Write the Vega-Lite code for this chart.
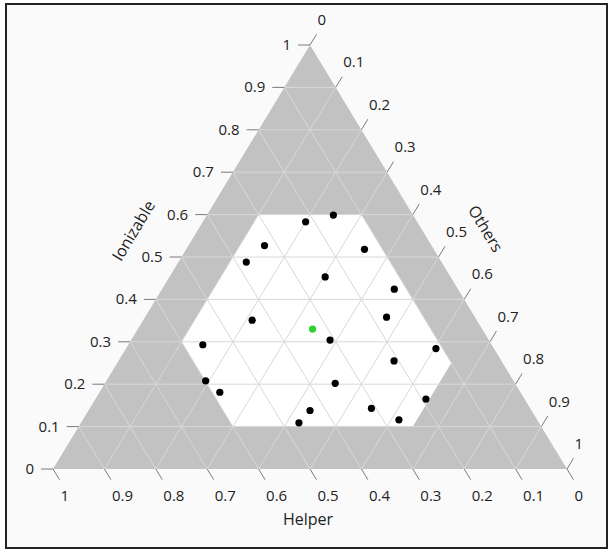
{
  "$schema": "https://vega.github.io/schema/vega-lite/v6.json",
  "width": 601,
  "height": 544,
  "autosize": {"type": "none"},
  "padding": {"left": 6, "top": 4, "right": 5, "bottom": 4},
  "background": "#ffffff",
  "config": {
    "view": {"fill": "#fafafa", "stroke": "#222222", "strokeWidth": 2},
    "text": {"font": "Open Sans", "fontSize": 15, "fill": "#222222"}
  },
  "datasets": {
    "triangle": [
      {"x": 0, "top": 0, "bottom": 0},
      {"x": 0.5, "top": 1, "bottom": 0},
      {"x": 1, "top": 0, "bottom": 0}
    ],
    "region": [
      {"x": 0.25, "top": 0.3, "bottom": 0.3},
      {"x": 0.35, "top": 0.5, "bottom": 0.1},
      {"x": 0.4, "top": 0.6, "bottom": 0.1},
      {"x": 0.6, "top": 0.6, "bottom": 0.1},
      {"x": 0.7, "top": 0.4, "bottom": 0.1},
      {"x": 0.775, "top": 0.25, "bottom": 0.25}
    ],
    "grid": [
      {"x": 0.05, "y": 0.1, "x2": 0.95, "y2": 0.1},
      {"x": 0.1, "y": 0.2, "x2": 0.9, "y2": 0.2},
      {"x": 0.15, "y": 0.3, "x2": 0.85, "y2": 0.3},
      {"x": 0.2, "y": 0.4, "x2": 0.8, "y2": 0.4},
      {"x": 0.25, "y": 0.5, "x2": 0.75, "y2": 0.5},
      {"x": 0.3, "y": 0.6, "x2": 0.7, "y2": 0.6},
      {"x": 0.35, "y": 0.7, "x2": 0.65, "y2": 0.7},
      {"x": 0.4, "y": 0.8, "x2": 0.6, "y2": 0.8},
      {"x": 0.45, "y": 0.9, "x2": 0.55, "y2": 0.9},
      {"x": 0.1, "y": 0, "x2": 0.55, "y2": 0.9},
      {"x": 0.2, "y": 0, "x2": 0.6, "y2": 0.8},
      {"x": 0.3, "y": 0, "x2": 0.65, "y2": 0.7},
      {"x": 0.4, "y": 0, "x2": 0.7, "y2": 0.6},
      {"x": 0.5, "y": 0, "x2": 0.75, "y2": 0.5},
      {"x": 0.6, "y": 0, "x2": 0.8, "y2": 0.4},
      {"x": 0.7, "y": 0, "x2": 0.85, "y2": 0.3},
      {"x": 0.8, "y": 0, "x2": 0.9, "y2": 0.2},
      {"x": 0.9, "y": 0, "x2": 0.95, "y2": 0.1},
      {"x": 0.9, "y": 0, "x2": 0.45, "y2": 0.9},
      {"x": 0.8, "y": 0, "x2": 0.4, "y2": 0.8},
      {"x": 0.7, "y": 0, "x2": 0.35, "y2": 0.7},
      {"x": 0.6, "y": 0, "x2": 0.3, "y2": 0.6},
      {"x": 0.5, "y": 0, "x2": 0.25, "y2": 0.5},
      {"x": 0.4, "y": 0, "x2": 0.2, "y2": 0.4},
      {"x": 0.3, "y": 0, "x2": 0.15, "y2": 0.3},
      {"x": 0.2, "y": 0, "x2": 0.1, "y2": 0.2},
      {"x": 0.1, "y": 0, "x2": 0.05, "y2": 0.1}
    ],
    "ticksLeft": [
      {"label": "0", "x": 0, "y": 0},
      {"label": "0.1", "x": 0.05, "y": 0.1},
      {"label": "0.2", "x": 0.1, "y": 0.2},
      {"label": "0.3", "x": 0.15, "y": 0.3},
      {"label": "0.4", "x": 0.2, "y": 0.4},
      {"label": "0.5", "x": 0.25, "y": 0.5},
      {"label": "0.6", "x": 0.3, "y": 0.6},
      {"label": "0.7", "x": 0.35, "y": 0.7},
      {"label": "0.8", "x": 0.4, "y": 0.8},
      {"label": "0.9", "x": 0.45, "y": 0.9},
      {"label": "1", "x": 0.5, "y": 1}
    ],
    "ticksRight": [
      {"label": "0", "x": 0.5, "y": 1},
      {"label": "0.1", "x": 0.55, "y": 0.9},
      {"label": "0.2", "x": 0.6, "y": 0.8},
      {"label": "0.3", "x": 0.65, "y": 0.7},
      {"label": "0.4", "x": 0.7, "y": 0.6},
      {"label": "0.5", "x": 0.75, "y": 0.5},
      {"label": "0.6", "x": 0.8, "y": 0.4},
      {"label": "0.7", "x": 0.85, "y": 0.3},
      {"label": "0.8", "x": 0.9, "y": 0.2},
      {"label": "0.9", "x": 0.95, "y": 0.1},
      {"label": "1", "x": 1, "y": 0}
    ],
    "ticksBottom": [
      {"label": "1", "x": 0, "y": 0},
      {"label": "0.9", "x": 0.1, "y": 0},
      {"label": "0.8", "x": 0.2, "y": 0},
      {"label": "0.7", "x": 0.3, "y": 0},
      {"label": "0.6", "x": 0.4, "y": 0},
      {"label": "0.5", "x": 0.5, "y": 0},
      {"label": "0.4", "x": 0.6, "y": 0},
      {"label": "0.3", "x": 0.7, "y": 0},
      {"label": "0.2", "x": 0.8, "y": 0},
      {"label": "0.1", "x": 0.9, "y": 0},
      {"label": "0", "x": 1, "y": 0}
    ],
    "points": [
      {"Ionizable": 0.599, "Others": 0.246, "Helper": 0.155, "kind": "run"},
      {"Ionizable": 0.583, "Others": 0.200, "Helper": 0.217, "kind": "run"},
      {"Ionizable": 0.527, "Others": 0.148, "Helper": 0.325, "kind": "run"},
      {"Ionizable": 0.488, "Others": 0.132, "Helper": 0.380, "kind": "run"},
      {"Ionizable": 0.518, "Others": 0.347, "Helper": 0.135, "kind": "run"},
      {"Ionizable": 0.453, "Others": 0.303, "Helper": 0.244, "kind": "run"},
      {"Ionizable": 0.424, "Others": 0.452, "Helper": 0.124, "kind": "run"},
      {"Ionizable": 0.351, "Others": 0.212, "Helper": 0.437, "kind": "run"},
      {"Ionizable": 0.358, "Others": 0.470, "Helper": 0.172, "kind": "run"},
      {"Ionizable": 0.304, "Others": 0.387, "Helper": 0.309, "kind": "run"},
      {"Ionizable": 0.293, "Others": 0.145, "Helper": 0.562, "kind": "run"},
      {"Ionizable": 0.284, "Others": 0.603, "Helper": 0.113, "kind": "run"},
      {"Ionizable": 0.255, "Others": 0.536, "Helper": 0.209, "kind": "run"},
      {"Ionizable": 0.208, "Others": 0.193, "Helper": 0.599, "kind": "run"},
      {"Ionizable": 0.181, "Others": 0.234, "Helper": 0.585, "kind": "run"},
      {"Ionizable": 0.202, "Others": 0.448, "Helper": 0.350, "kind": "run"},
      {"Ionizable": 0.165, "Others": 0.643, "Helper": 0.192, "kind": "run"},
      {"Ionizable": 0.143, "Others": 0.548, "Helper": 0.309, "kind": "run"},
      {"Ionizable": 0.138, "Others": 0.431, "Helper": 0.431, "kind": "run"},
      {"Ionizable": 0.109, "Others": 0.424, "Helper": 0.467, "kind": "run"},
      {"Ionizable": 0.116, "Others": 0.615, "Helper": 0.269, "kind": "run"},
      {"Ionizable": 0.330, "Others": 0.340, "Helper": 0.330, "kind": "center"}
    ]
  },
  "layer": [
    {
      "data": {"name": "triangle"},
      "mark": {"type": "area", "color": "#c2c2c2", "opacity": 1},
      "encoding": {
        "x": {"field": "x", "type": "quantitative", "scale": {"domain": [-0.09144, 1.07782], "nice": false, "zero": false}, "axis": null},
        "y": {"field": "top", "type": "quantitative", "scale": {"domain": [-0.18632, 1.0967], "nice": false, "zero": false}, "axis": null},
        "y2": {"field": "bottom"}
      }
    },
    {
      "data": {"name": "region"},
      "mark": {"type": "area", "color": "#ffffff", "opacity": 1},
      "encoding": {
        "x": {"field": "x", "type": "quantitative", "scale": {"domain": [-0.09144, 1.07782], "nice": false, "zero": false}, "axis": null},
        "y": {"field": "top", "type": "quantitative", "scale": {"domain": [-0.18632, 1.0967], "nice": false, "zero": false}, "axis": null},
        "y2": {"field": "bottom"}
      }
    },
    {
      "data": {"name": "grid"},
      "mark": {"type": "rule", "color": "#d8d8d8", "strokeWidth": 1},
      "encoding": {
        "x": {"field": "x", "type": "quantitative", "scale": {"domain": [-0.09144, 1.07782], "nice": false, "zero": false}, "axis": null},
        "y": {"field": "y", "type": "quantitative", "scale": {"domain": [-0.18632, 1.0967], "nice": false, "zero": false}, "axis": null},
        "x2": {"field": "x2"},
        "y2": {"field": "y2"}
      }
    },
    {
      "data": {"name": "ticksLeft"},
      "layer": [
        {
          "mark": {"type": "rule", "color": "#7a7a7a", "strokeWidth": 1, "x2Offset": -12},
          "encoding": {
            "x": {"field": "x", "type": "quantitative", "scale": {"domain": [-0.09144, 1.07782], "nice": false, "zero": false}, "axis": null},
            "y": {"field": "y", "type": "quantitative", "scale": {"domain": [-0.18632, 1.0967], "nice": false, "zero": false}, "axis": null},
            "x2": {"field": "x"},
            "y2": {"field": "y"}
          }
        },
        {
          "mark": {"type": "text", "align": "right", "baseline": "middle", "dx": -19},
          "encoding": {
            "x": {"field": "x", "type": "quantitative", "scale": {"domain": [-0.09144, 1.07782], "nice": false, "zero": false}, "axis": null},
            "y": {"field": "y", "type": "quantitative", "scale": {"domain": [-0.18632, 1.0967], "nice": false, "zero": false}, "axis": null},
            "text": {"field": "label"}
          }
        }
      ]
    },
    {
      "data": {"name": "ticksRight"},
      "layer": [
        {
          "mark": {"type": "rule", "color": "#7a7a7a", "strokeWidth": 1, "x2Offset": 6.5, "y2Offset": -10.7},
          "encoding": {
            "x": {"field": "x", "type": "quantitative", "scale": {"domain": [-0.09144, 1.07782], "nice": false, "zero": false}, "axis": null},
            "y": {"field": "y", "type": "quantitative", "scale": {"domain": [-0.18632, 1.0967], "nice": false, "zero": false}, "axis": null},
            "x2": {"field": "x"},
            "y2": {"field": "y"}
          }
        },
        {
          "mark": {"type": "text", "align": "left", "baseline": "alphabetic", "dx": 7.5, "dy": -20},
          "encoding": {
            "x": {"field": "x", "type": "quantitative", "scale": {"domain": [-0.09144, 1.07782], "nice": false, "zero": false}, "axis": null},
            "y": {"field": "y", "type": "quantitative", "scale": {"domain": [-0.18632, 1.0967], "nice": false, "zero": false}, "axis": null},
            "text": {"field": "label"}
          }
        }
      ]
    },
    {
      "data": {"name": "ticksBottom"},
      "layer": [
        {
          "mark": {"type": "rule", "color": "#7a7a7a", "strokeWidth": 1, "x2Offset": 6.5, "y2Offset": 10.7},
          "encoding": {
            "x": {"field": "x", "type": "quantitative", "scale": {"domain": [-0.09144, 1.07782], "nice": false, "zero": false}, "axis": null},
            "y": {"field": "y", "type": "quantitative", "scale": {"domain": [-0.18632, 1.0967], "nice": false, "zero": false}, "axis": null},
            "x2": {"field": "x"},
            "y2": {"field": "y"}
          }
        },
        {
          "mark": {"type": "text", "align": "left", "baseline": "top", "dx": 7.5, "dy": 20},
          "encoding": {
            "x": {"field": "x", "type": "quantitative", "scale": {"domain": [-0.09144, 1.07782], "nice": false, "zero": false}, "axis": null},
            "y": {"field": "y", "type": "quantitative", "scale": {"domain": [-0.18632, 1.0967], "nice": false, "zero": false}, "axis": null},
            "text": {"field": "label"}
          }
        }
      ]
    },
    {
      "data": {"values": [{"title": "Ionizable"}]},
      "mark": {"type": "text", "align": "center", "baseline": "middle", "angle": -58.8, "fontSize": 16},
      "encoding": {
        "x": {"datum": 0.1576, "type": "quantitative", "scale": {"domain": [-0.09144, 1.07782], "nice": false, "zero": false}, "axis": null},
        "y": {"datum": 0.5613, "type": "quantitative", "scale": {"domain": [-0.18632, 1.0967], "nice": false, "zero": false}, "axis": null},
        "text": {"field": "title"}
      }
    },
    {
      "data": {"values": [{"title": "Others"}]},
      "mark": {"type": "text", "align": "center", "baseline": "middle", "angle": 58.8, "fontSize": 16},
      "encoding": {
        "x": {"datum": 0.8405, "type": "quantitative", "scale": {"domain": [-0.09144, 1.07782], "nice": false, "zero": false}, "axis": null},
        "y": {"datum": 0.566, "type": "quantitative", "scale": {"domain": [-0.18632, 1.0967], "nice": false, "zero": false}, "axis": null},
        "text": {"field": "title"}
      }
    },
    {
      "data": {"values": [{"title": "Helper"}]},
      "mark": {"type": "text", "align": "center", "baseline": "middle", "fontSize": 16},
      "encoding": {
        "x": {"datum": 0.496, "type": "quantitative", "scale": {"domain": [-0.09144, 1.07782], "nice": false, "zero": false}, "axis": null},
        "y": {"datum": -0.1203, "type": "quantitative", "scale": {"domain": [-0.18632, 1.0967], "nice": false, "zero": false}, "axis": null},
        "text": {"field": "title"}
      }
    },
    {
      "data": {"name": "points"},
      "transform": [
        {"calculate": "datum.Others + datum.Ionizable / 2", "as": "px"}
      ],
      "mark": {"type": "circle", "size": 52, "opacity": 1},
      "encoding": {
        "x": {"field": "px", "type": "quantitative", "scale": {"domain": [-0.09144, 1.07782], "nice": false, "zero": false}, "axis": null},
        "y": {"field": "Ionizable", "type": "quantitative", "scale": {"domain": [-0.18632, 1.0967], "nice": false, "zero": false}, "axis": null},
        "color": {"field": "kind", "type": "nominal", "scale": {"domain": ["run", "center"], "range": ["#000000", "#2ed12e"]}, "legend": null},
        "tooltip": [
          {"field": "Ionizable", "type": "quantitative"},
          {"field": "Helper", "type": "quantitative"},
          {"field": "Others", "type": "quantitative"}
        ]
      }
    }
  ]
}
